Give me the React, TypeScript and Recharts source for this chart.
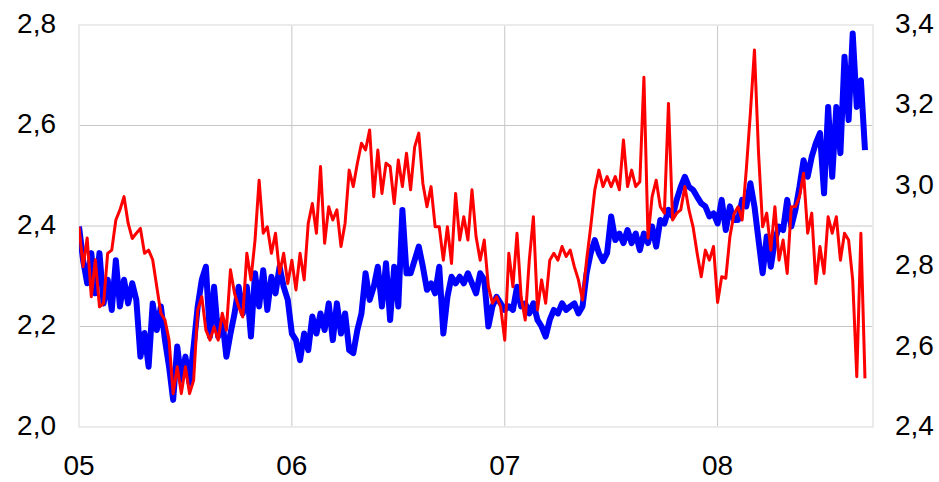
import React from "react";
import {
  LineChart,
  Line,
  XAxis,
  YAxis,
  CartesianGrid,
  ReferenceArea,
} from "recharts";

// weekly observations starting first week of 2005
const startYear = 2005;
const weeksPerYear = 52;

// left axis series (blue, thick)
const blueSeries = [
  2.399, 2.332, 2.286, 2.346, 2.266, 2.346, 2.246, 2.293, 2.233, 2.332,
  2.24, 2.293, 2.246, 2.286, 2.253, 2.14, 2.187, 2.12, 2.246, 2.193,
  2.24, 2.173, 2.12, 2.054, 2.16, 2.094, 2.14, 2.087, 2.16, 2.24,
  2.293, 2.319, 2.18, 2.279, 2.18, 2.213, 2.14, 2.186, 2.226, 2.279,
  2.226, 2.279, 2.18, 2.306, 2.24, 2.312, 2.233, 2.299, 2.266, 2.319,
  2.279, 2.253, 2.186, 2.173, 2.133, 2.186, 2.153, 2.22, 2.186, 2.226,
  2.193, 2.246, 2.173, 2.246, 2.186, 2.226, 2.153, 2.147, 2.193, 2.226,
  2.306, 2.253, 2.279, 2.319, 2.24, 2.326, 2.213, 2.319, 2.24, 2.432,
  2.306, 2.306, 2.332, 2.359, 2.319, 2.273, 2.286, 2.266, 2.319, 2.186,
  2.259, 2.299, 2.286, 2.299, 2.286, 2.306, 2.286, 2.266, 2.306, 2.293,
  2.2, 2.24, 2.259, 2.246, 2.233, 2.24, 2.233, 2.279, 2.24, 2.246,
  2.226, 2.246, 2.213, 2.2, 2.18, 2.213, 2.233, 2.226, 2.246, 2.233,
  2.24, 2.246, 2.226, 2.24, 2.306, 2.346, 2.372, 2.346, 2.33, 2.346,
  2.419, 2.372, 2.385, 2.366, 2.392, 2.366, 2.385, 2.352, 2.385, 2.366,
  2.399, 2.359, 2.412, 2.405, 2.432, 2.419, 2.452, 2.478, 2.498, 2.478,
  2.472, 2.458, 2.445, 2.439, 2.419, 2.425, 2.405, 2.452, 2.392, 2.439,
  2.412, 2.412, 2.452, 2.439, 2.485, 2.439, 2.372, 2.306, 2.379, 2.319,
  2.372, 2.399, 2.392, 2.452, 2.399, 2.432, 2.478, 2.531, 2.498, 2.538,
  2.565, 2.585, 2.465, 2.637, 2.498, 2.637, 2.545, 2.737, 2.611, 2.783,
  2.637, 2.69, 2.551,
];

// right axis series (red, thin)
const redSeries = [
  2.898, 2.799, 2.87, 2.724, 2.816, 2.699, 2.707, 2.832, 2.84, 2.915,
  2.94, 2.973, 2.907, 2.869, 2.882, 2.894, 2.832, 2.84, 2.816, 2.749,
  2.683, 2.666, 2.616, 2.483, 2.55, 2.483, 2.55, 2.483, 2.516, 2.691,
  2.724, 2.641, 2.616, 2.649, 2.616, 2.683, 2.641, 2.791, 2.732, 2.699,
  2.674, 2.832, 2.766, 2.865, 3.014, 2.882, 2.898, 2.832, 2.882, 2.782,
  2.832, 2.757, 2.815, 2.741, 2.832, 2.766, 2.907, 2.956, 2.882, 3.048,
  2.857, 2.948, 2.915, 2.94, 2.849, 2.907, 3.039, 2.998, 3.056, 3.106,
  3.089, 3.139, 2.973, 3.089, 2.981, 3.056, 3.048, 2.956, 3.064, 2.998,
  3.081, 2.99, 3.097, 3.131, 3.006, 2.948, 2.998, 2.898, 2.898, 2.815,
  2.898, 2.807, 2.981, 2.865, 2.923, 2.865, 2.99, 2.873, 2.815, 2.865,
  2.749, 2.708, 2.724, 2.699, 2.616, 2.832, 2.749, 2.882, 2.724, 2.666,
  2.815, 2.923, 2.691, 2.766, 2.708, 2.815, 2.832, 2.815, 2.849, 2.824,
  2.84, 2.799, 2.766, 2.716, 2.815, 2.898, 2.99, 3.039, 2.998, 3.023,
  2.998, 3.023, 2.99, 3.114, 2.998, 3.039, 2.998, 3.01, 3.27, 2.87,
  2.973, 3.014, 2.948, 2.932, 3.205, 2.915, 2.932, 2.94, 2.998, 2.94,
  2.898, 2.832, 2.774, 2.84, 2.815, 2.849, 2.71, 2.774, 2.77, 2.873,
  2.93, 2.948, 2.915, 3.039, 3.18, 3.338, 3.081, 2.898, 2.932, 2.84,
  2.948, 2.815, 2.865, 2.782, 2.948, 2.948, 2.973, 3.031, 2.882, 2.932,
  2.757, 2.849, 2.782, 2.923, 2.882, 2.923, 2.815, 2.882, 2.865, 2.766,
  2.525, 2.882, 2.521,
];

const yearTicks = [2005, 2006, 2007, 2008];
const leftTicks = [2.0, 2.2, 2.4, 2.6, 2.8];
const rightTicks = [2.4, 2.6, 2.8, 3.0, 3.2, 3.4];

const rows = blueSeries.map((b, i) => ({
  t: startYear + i / weeksPerYear,
  blue: b,
  red: redSeries[i],
}));

const endYear = 2008.73;
const font = "'Liberation Sans', Arial, sans-serif";
const tickStyle = { fill: "#000", fontSize: 28, fontFamily: font };
const comma = (v: number) => v.toFixed(1).replace(".", ",");

export default function App() {
  return (
    <div style={{ position: "absolute", left: 0, top: 0, background: "#fff" }}>
      <LineChart
        width={939}
        height={482}
        data={rows}
        margin={{ top: 25, right: 0, bottom: 0, left: 0 }}
      >
        <CartesianGrid
          yAxisId="l"
          stroke="#c6c6c6"
          horizontalValues={[2.2, 2.4, 2.6]}
          verticalValues={[2006, 2007, 2008]}
        />
        <ReferenceArea
          yAxisId="l"
          x1={startYear}
          x2={endYear}
          y1={2.0}
          y2={2.8}
          fill="none"
          stroke="#ebebeb"
          strokeWidth={2}
        />
        <XAxis
          type="number"
          dataKey="t"
          domain={[startYear, endYear]}
          ticks={yearTicks}
          tickFormatter={(v: number) => String(v).slice(2)}
          allowDataOverflow
          height={55}
          axisLine={false}
          tickLine={false}
          tickSize={0}
          tickMargin={28}
          tick={tickStyle}
        />
        <YAxis
          yAxisId="l"
          domain={[2.0, 2.8]}
          ticks={leftTicks}
          tickFormatter={comma}
          width={79}
          axisLine={false}
          tickLine={false}
          tickSize={0}
          tickMargin={23}
          tick={{ ...tickStyle, dy: -2 }}
        />
        <YAxis
          yAxisId="r"
          orientation="right"
          domain={[2.4, 3.4]}
          ticks={rightTicks}
          tickFormatter={comma}
          width={66}
          axisLine={false}
          tickLine={false}
          tickSize={0}
          tickMargin={22}
          tick={{ ...tickStyle, dy: -2 }}
        />
        <Line
          yAxisId="l"
          dataKey="blue"
          type="linear"
          stroke="#0000ff"
          strokeWidth={6}
          strokeLinejoin="round"
          dot={false}
          isAnimationActive={false}
        />
        <Line
          yAxisId="r"
          dataKey="red"
          type="linear"
          stroke="#ff0000"
          strokeWidth={3}
          strokeLinejoin="round"
          dot={false}
          isAnimationActive={false}
        />
      </LineChart>
    </div>
  );
}
